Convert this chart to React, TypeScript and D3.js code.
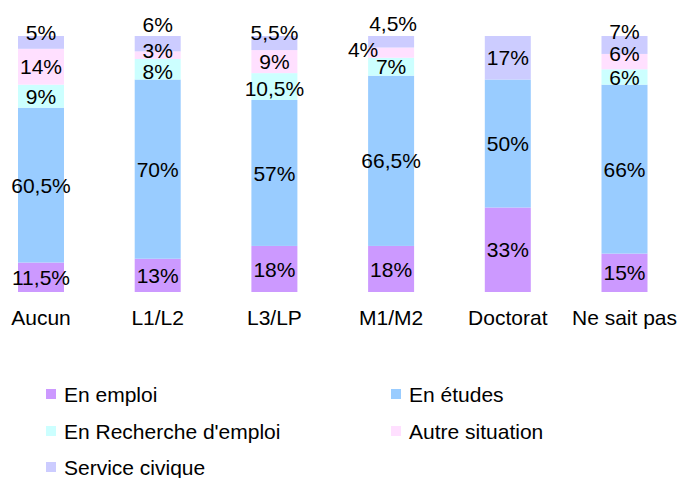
import { useEffect, useRef } from 'react';
import * as d3 from 'd3';

// values (percent)
const categories = ['Aucun', 'L1/L2', 'L3/LP', 'M1/M2', 'Doctorat', 'Ne sait pas'];
const seriesNames = ['En emploi', 'En études', "En Recherche d'emploi", 'Autre situation', 'Service civique'];
const enEmploi = [11.5, 13, 18, 18, 33, 15];
const enEtudes = [60.5, 70, 57, 66.5, 50, 66];
const enRecherche = [9, 8, 10.5, 7, 0, 6];
const autreSituation = [14, 3, 9, 4, 0, 6];
const serviceCivique = [5, 6, 5.5, 4.5, 17, 7];

const COLORS = ['#cc99ff', '#99ccff', '#ccffff', '#ffe0ff', '#ccccff'];

// hand-moved labels in the original (series index, category) -> [dx, dy]
const labelNudge: Record<string, [number, number]> = {
  '4|Aucun': [0, -10],
  '4|L1/L2': [0, -19],
  '3|L1/L2': [0, -5],
  '2|L1/L2': [0, 2],
  '4|L3/LP': [0, -11],
  '2|L3/LP': [0, 2],
  '4|M1/M2': [2, -18],
  '3|M1/M2': [-28, -3],
  '4|Ne sait pas': [0, -14],
  '3|Ne sait pas': [0, -8],
};

const fmt = (v: number) => `${String(v).replace('.', ',')}%`;

export default function App() {
  const svgRef = useRef<SVGSVGElement>(null);

  useEffect(() => {
    document.body.style.margin = '0';
    if (!svgRef.current) return;
    const svg = d3.select(svgRef.current);
    svg.selectAll('*').remove();

    const font = '"Liberation Sans", Arial, sans-serif';
    const fs = 21;
    const values = [enEmploi, enEtudes, enRecherche, autreSituation, serviceCivique];
    const rows = categories.map((c, i) => {
      const r: any = { cat: c };
      seriesNames.forEach((s, j) => { r[s] = values[j][i]; });
      return r;
    });
    const stacked = d3.stack<any>().keys(seriesNames)(rows);

    const x = d3.scalePoint<string>().domain(categories).range([41, 624.5]);
    const y = d3.scaleLinear().domain([0, 100]).range([292, 36]);
    const barW = 46;

    const bars = svg.append('g');
    const labels = svg.append('g');
    stacked.forEach((layer, si) => {
      bars.append('g')
        .selectAll('rect')
        .data(layer)
        .enter()
        .append('rect')
        .attr('x', d => x(d.data.cat)! - barW / 2)
        .attr('y', d => y(d[1]))
        .attr('width', barW)
        .attr('height', d => y(d[0]) - y(d[1]))
        .attr('fill', COLORS[si]);

      labels.append('g')
        .selectAll('text')
        .data(layer.filter(d => d[1] - d[0] > 0))
        .enter()
        .append('text')
        .attr('x', d => x(d.data.cat)! + (labelNudge[`${si}|${d.data.cat}`]?.[0] ?? 0))
        .attr('y', d => (y(d[0]) + y(d[1])) / 2 + (labelNudge[`${si}|${d.data.cat}`]?.[1] ?? 0))
        .attr('dy', '0.36em')
        .attr('text-anchor', 'middle')
        .attr('font-family', font)
        .attr('font-size', fs)
        .attr('fill', '#000')
        .text(d => fmt(d[1] - d[0]));
    });

    // category labels
    svg.append('g')
      .selectAll('text')
      .data(categories)
      .enter()
      .append('text')
      .attr('x', d => x(d)!)
      .attr('y', 317)
      .attr('dy', '0.36em')
      .attr('text-anchor', 'middle')
      .attr('font-family', font)
      .attr('font-size', fs)
      .text(d => d);

    // legend, two columns
    const legend = svg.append('g');
    const colX = [46, 391];
    const rowY = [394, 431, 467];
    seriesNames.forEach((s, i) => {
      const lx = colX[i % 2];
      const ly = rowY[Math.floor(i / 2)];
      legend.append('rect')
        .attr('x', lx)
        .attr('y', ly - 5)
        .attr('width', 10)
        .attr('height', 10)
        .attr('fill', COLORS[i]);
      legend.append('text')
        .attr('x', lx + 18)
        .attr('y', ly)
        .attr('dy', '0.36em')
        .attr('font-family', font)
        .attr('font-size', fs)
        .text(s);
    });
  }, []);

  return <svg ref={svgRef} width={678} height={478} style={{ display: 'block', background: '#fff' }} />;
}
